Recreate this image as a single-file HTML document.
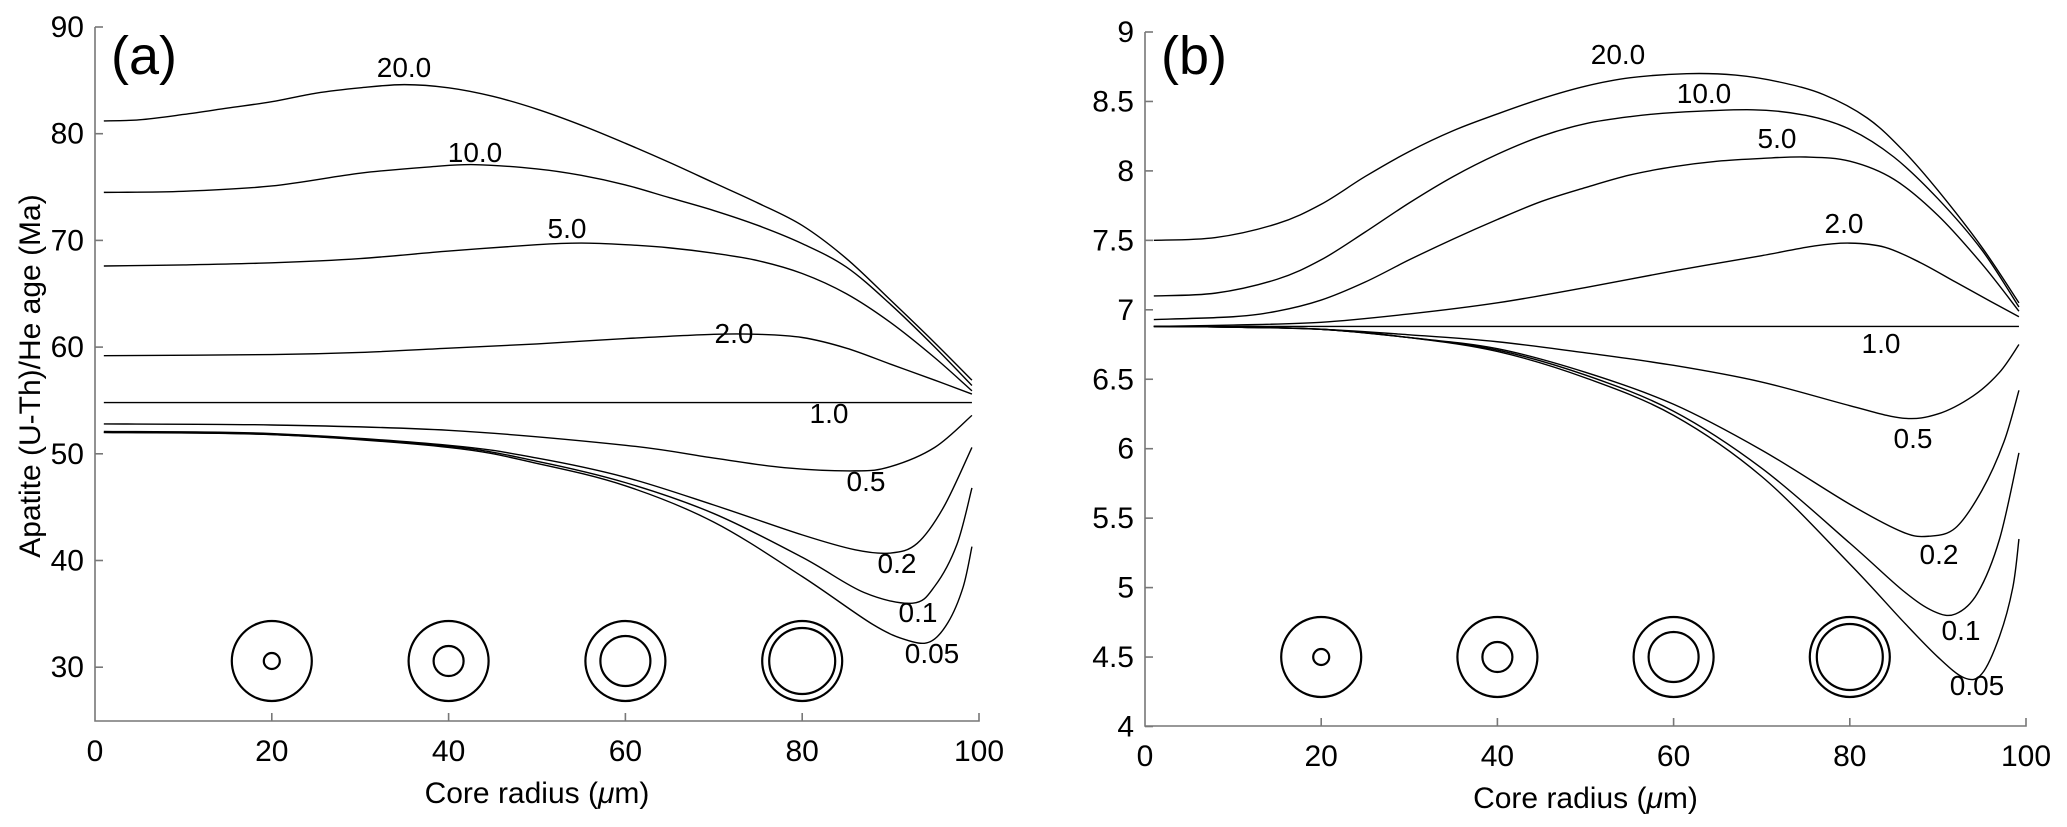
<!DOCTYPE html>
<html><head><meta charset="utf-8">
<style>
html,body{margin:0;padding:0;background:#fff;}
svg{display:block;}
text{font-family:"Liberation Sans",Arial,sans-serif;fill:#000;}
</style></head>
<body>
<svg id="s" width="2067" height="827" viewBox="0 0 2067 827" xmlns="http://www.w3.org/2000/svg">
<g id="g"></g>
</svg>
<script>
const NS="http://www.w3.org/2000/svg";
const g=document.getElementById('g');
function el(t,a,txt){const e=document.createElementNS(NS,t);for(const k in a)e.setAttribute(k,a[k]);if(txt!==undefined)e.textContent=txt;g.appendChild(e);return e;}
function path(pts){
  let d=`M${pts[0][0].toFixed(2)},${pts[0][1].toFixed(2)}`;
  for(let i=0;i<pts.length-1;i++){
    const p0=pts[i-1]||pts[i],p1=pts[i],p2=pts[i+1],p3=pts[i+2]||pts[i+1];
    const c1=[p1[0]+(p2[0]-p0[0])/6,p1[1]+(p2[1]-p0[1])/6];
    const c2=[p2[0]-(p3[0]-p1[0])/6,p2[1]-(p3[1]-p1[1])/6];
    d+=` C${c1[0].toFixed(2)},${c1[1].toFixed(2)} ${c2[0].toFixed(2)},${c2[1].toFixed(2)} ${p2[0].toFixed(2)},${p2[1].toFixed(2)}`;
  }
  return d;
}
function panel(P){
  const X=v=>P.x0+(P.x1-P.x0)*v/100;
  const Y=a=>P.yTop+(P.vTop-a)*P.k;
  el('path',{d:`M${P.x0},${P.yTop} V${P.yAx} H${P.x1} V${P.yAx-8}`,stroke:'#777',fill:'none','stroke-width':1.6});
  P.yt.forEach(t=>{const y=Y(t);el('line',{x1:P.x0,y1:y,x2:P.x0+8,y2:y,stroke:'#777','stroke-width':1.6});
    el('text',{x:P.x0-11,y:y+10,'font-size':30,'text-anchor':'end'},P.fmt(t));});
  [0,20,40,60,80,100].forEach(t=>{const x=X(t);if(t>0&&t<100)el('line',{x1:x,y1:P.yAx,x2:x,y2:P.yAx-8,stroke:'#777','stroke-width':1.6});
    el('text',{x:x,y:P.xlabY,'font-size':30,'text-anchor':'middle'},String(t));});
  el('text',{x:X(50),y:P.xtitleY,'font-size':30,'text-anchor':'middle'}).innerHTML='Core radius (<tspan font-style="italic">μ</tspan>m)';
  el('text',{x:P.x0+16,y:74,'font-size':54},P.tag);
  P.curves.forEach(c=>{el('path',{d:path(c.map(p=>[X(p[0]),Y(p[1])])),fill:'none',stroke:'#000','stroke-width':1.4});});
  P.labels.forEach(l=>el('text',{x:l[1],y:l[2],'font-size':28,'text-anchor':'middle'},l[0]));
  const cy=P.cy;
  [[20,8],[40,15],[60,25],[80,33]].forEach(c=>{
    el('circle',{cx:X(c[0]),cy:cy,r:40,fill:'none',stroke:'#000','stroke-width':2.2});
    el('circle',{cx:X(c[0]),cy:cy,r:c[1],fill:'none',stroke:'#000','stroke-width':2.2});
  });
}
panel({x0:95,x1:979,yTop:27,vTop:90,k:10.67,yAx:721,yt:[30,40,50,60,70,80,90],fmt:t=>String(t),
 xlabY:761,xtitleY:803,tag:'(a)',cy:661,
 curves:[
 [[1,81.2],[5,81.3],[10,81.8],[15,82.4],[20,83],[25,83.8],[30,84.3],[35,84.6],[40,84.3],[45,83.5],[50,82.3],[55,80.8],[60,79.1],[65,77.3],[70,75.4],[75,73.5],[80,71.4],[85,68.3],[90,64.4],[95,60.4],[99.2,56.9]],
 [[1,74.5],[10,74.6],[20,75.1],[30,76.3],[38,76.9],[43,77.1],[50,76.7],[55,76.1],[60,75.2],[65,74.0],[70,72.8],[75,71.4],[80,69.7],[85,67.5],[90,64.0],[95,60.0],[99.2,56.4]],
 [[1,67.6],[10,67.7],[20,67.9],[30,68.3],[40,69.0],[50,69.6],[55,69.75],[60,69.6],[65,69.3],[70,68.8],[75,68.1],[80,66.9],[85,65.0],[90,62.3],[95,59.0],[99.2,55.9]],
 [[1,59.2],[20,59.3],[30,59.5],[40,59.9],[50,60.3],[60,60.8],[70,61.2],[75,61.2],[80,60.9],[85,59.9],[90,58.4],[95,56.9],[99.2,55.6]],
 [[1,54.8],[99.2,54.8]],
 [[1,52.8],[20,52.7],[40,52.2],[60,50.8],[70,49.6],[78,48.7],[86,48.4],[90,48.8],[95,50.6],[99.2,53.6]],
 [[1,52.1],[20,51.9],[40,50.8],[50,49.6],[60,47.8],[70,45.2],[80,42.4],[86,41],[90,40.7],[93,41.6],[96,45],[99.2,50.6]],
 [[1,52],[20,51.8],[40,50.7],[50,49.3],[60,47.3],[70,44.4],[80,40.3],[87,37],[92.5,36],[95,37.6],[97.5,41.5],[99.2,46.8]],
 [[1,52],[20,51.8],[40,50.6],[50,49.1],[60,47],[70,43.6],[80,38.5],[88,34],[92,32.5],[94.5,32.4],[96.5,34.2],[98.2,37.5],[99.2,41.3]]
 ],
 labels:[['20.0',404,77],['10.0',475,162],['5.0',567,238],['2.0',734,343],['1.0',829,423],['0.5',866,491],['0.2',897,573],['0.1',918,622],['0.05',932,663]]
});
panel({x0:1145,x1:2026,yTop:32,vTop:9,k:138.9,yAx:726,yt:[4,4.5,5,5.5,6,6.5,7,7.5,8,8.5,9],fmt:t=>String(t),
 xlabY:766,xtitleY:808,tag:'(b)',cy:657,
 curves:[
 [[1,7.5],[8,7.52],[15,7.62],[20,7.76],[25,7.96],[30,8.14],[35,8.29],[40,8.41],[45,8.52],[50,8.61],[55,8.67],[61.5,8.70],[67,8.69],[72,8.64],[77,8.55],[82,8.38],[86,8.15],[90,7.86],[95,7.45],[99.2,7.05]],
 [[1,7.1],[8,7.12],[15,7.22],[20,7.36],[25,7.56],[30,7.77],[35,7.96],[40,8.12],[45,8.25],[50,8.34],[55,8.39],[60,8.42],[69,8.44],[75,8.4],[80,8.3],[85,8.1],[90,7.8],[95,7.43],[99.2,7.02]],
 [[1,6.93],[10,6.95],[15,6.99],[20,7.07],[25,7.2],[30,7.36],[35,7.51],[40,7.65],[45,7.78],[50,7.88],[55,7.97],[60,8.03],[65,8.07],[70,8.09],[75,8.1],[80,8.07],[85,7.94],[90,7.68],[95,7.33],[99.2,6.99]],
 [[1,6.88],[10,6.89],[20,6.91],[30,6.97],[40,7.05],[50,7.16],[60,7.28],[70,7.39],[76,7.46],[80,7.48],[84,7.45],[88,7.34],[92,7.2],[96,7.06],[99.2,6.95]],
 [[1,6.88],[99.2,6.88]],
 [[1,6.88],[10,6.875],[20,6.86],[30,6.82],[40,6.77],[50,6.69],[60,6.6],[70,6.48],[80,6.31],[86,6.22],[90,6.25],[94,6.38],[97,6.55],[99.2,6.75]],
 [[1,6.88],[10,6.875],[20,6.86],[30,6.8],[40,6.72],[50,6.55],[60,6.32],[70,5.99],[80,5.6],[86,5.4],[89,5.37],[92,5.43],[95,5.7],[97.5,6.05],[99.2,6.42]],
 [[1,6.88],[10,6.875],[20,6.86],[30,6.8],[40,6.71],[50,6.53],[60,6.27],[70,5.86],[80,5.32],[86,4.98],[89.5,4.83],[92,4.81],[94.5,4.96],[97,5.35],[99.2,5.97]],
 [[1,6.88],[10,6.875],[20,6.86],[30,6.8],[40,6.7],[50,6.51],[60,6.24],[70,5.8],[80,5.17],[86,4.76],[90,4.5],[93,4.35],[95,4.38],[97,4.65],[98.5,5.0],[99.2,5.35]]
 ],
 labels:[['20.0',1618,64],['10.0',1704,103],['5.0',1777,148],['2.0',1844,233],['1.0',1881,353],['0.5',1913,448],['0.2',1939,564],['0.1',1961,640],['0.05',1977,695]]
});
el('text',{x:0,y:0,'font-size':30,'text-anchor':'middle',transform:'translate(40,376) rotate(-90)'},'Apatite (U-Th)/He age (Ma)');
</script>
</body></html>
